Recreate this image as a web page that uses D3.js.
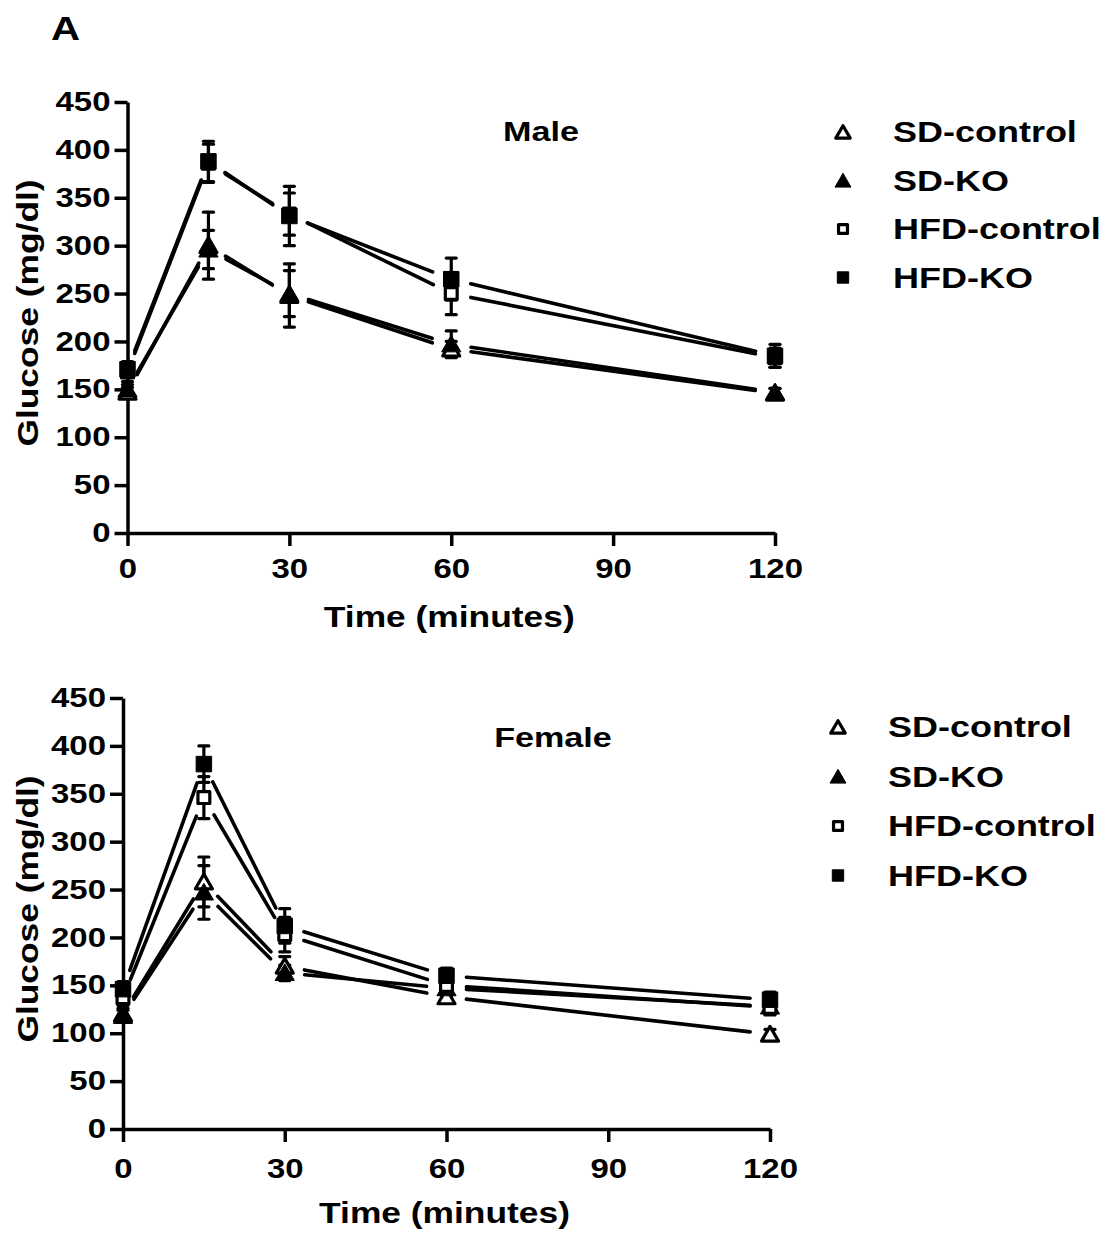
<!DOCTYPE html>
<html>
<head>
<meta charset="utf-8">
<script src="https://cdn.jsdelivr.net/npm/d3@7"></script>
<style>
  body { margin: 0; background: #fff; }
  text { font-family: "Liberation Sans", Arial, sans-serif; font-weight: bold; fill: #000; }
</style>
</head>
<body>
<div id="chart"></div>
<script>
const times = [0, 15, 30, 60, 120];
const seriesNames = ["SD-control", "SD-KO", "HFD-control", "HFD-KO"];
const yTicks = [0, 50, 100, 150, 200, 250, 300, 350, 400, 450];
const xTicks = [0, 30, 60, 90, 120];

// male means / SEM
const maleSDControl = [147, 300, 248, 192, 146];
const maleSDKO = [150, 296, 250, 197, 147];
const maleHFDControl = [168, 386, 333, 250, 183];
const maleHFDKO = [171, 388, 331, 265, 185];
const maleSDControlErr = [5, 35, 33, 8, 5];
const maleSDKOErr = [5, 20, 24, 14, 4];
const maleHFDControlErr = [10, 20, 22, 22, 10];
const maleHFDKOErr = [8, 21, 31, 22, 12];

// female means / SEM
const femaleSDControl = [120, 258, 170, 138, 99];
const femaleSDKO = [118, 247, 163, 147, 128];
const femaleHFDControl = [137, 346, 203, 150, 127];
const femaleHFDKO = [146, 381, 212, 160, 135];
const femaleSDControlErr = [6, 26, 10, 6, 5];
const femaleSDKOErr = [6, 28, 8, 8, 8];
const femaleHFDControlErr = [8, 22, 18, 8, 8];
const femaleHFDKOErr = [8, 19, 18, 8, 8];

const W = 1106, H = 1234;
const SX = 1.22; // text in the figure is wider than Liberation Sans

const svg = d3.select('#chart').append('svg')
  .attr('width', W)
  .attr('height', H)
  .attr('viewBox', [0, 0, W, H]);

function stext(g, x, y, str, size, anchor) {
  return g.append('text')
    .attr('transform', `translate(${x},${y}) scale(${SX},1)`)
    .attr('text-anchor', anchor || 'start')
    .style('font-size', size + 'px')
    .text(str);
}

stext(svg, 51, 40, 'A', 33);

const shapes = [
  { type: d3.symbolTriangle, filled: false },
  { type: d3.symbolTriangle, filled: true },
  { type: d3.symbolSquare, filled: false },
  { type: d3.symbolSquare, filled: true }
];

function marker(g, i, x, y, legend) {
  const s = shapes[i];
  const isTri = s.type === d3.symbolTriangle;
  let size = isTri ? (s.filled ? 160 : 125) : (s.filled ? 240 : 140);
  if (legend) size = isTri ? (s.filled ? 110 : 90) : (s.filled ? 130 : 80);
  g.append('path')
    .attr('d', d3.symbol().type(s.type).size(size)())
    .attr('transform', `translate(${x},${y + (isTri ? 2 : 0)})`)
    .attr('fill', s.filled ? '#000' : '#fff')
    .attr('stroke', '#000')
    .attr('stroke-width', s.filled ? 1 : 3.2)
    .attr('stroke-linejoin', 'round');
}

function panel(cfg) {
  const x = d3.scaleLinear().domain([0, 120]).range([cfg.x0, cfg.x1]);
  const y = d3.scaleLinear().domain([0, 450]).range([cfg.y0, cfg.y1]);
  const g = svg.append('g');

  const yAxis = g.append('g')
    .attr('transform', `translate(${cfg.x0},0)`)
    .call(d3.axisLeft(y).tickValues(yTicks).tickSize(13).tickSizeOuter(0).tickPadding(4));
  const xAxis = g.append('g')
    .attr('transform', `translate(0,${cfg.y0})`)
    .call(d3.axisBottom(x).tickValues(xTicks).tickSize(13).tickSizeOuter(0).tickPadding(cfg.xPad));

  [yAxis, xAxis].forEach(a => {
    a.selectAll('path, line').attr('stroke', '#000').attr('stroke-width', 3.5);
    a.selectAll('text')
      .style('font-size', '27px')
      .style('font-family', '"Liberation Sans", Arial, sans-serif')
      .style('font-weight', 'bold')
      .attr('fill', '#000')
      .attr('transform', function () {
        const tx = +this.getAttribute('x') || 0;
        return `translate(${tx * (1 - SX)},0) scale(${SX},1)`;
      });
  });

  stext(g, (cfg.x0 + cfg.x1) / 2 - 2, cfg.xTitleY, 'Time (minutes)', 29, 'middle');
  g.append('text')
    .attr('transform', `translate(${cfg.yTitleX},${cfg.yTitleY}) rotate(-90) scale(${SX},1)`)
    .attr('text-anchor', 'middle')
    .style('font-size', '29px')
    .text('Glucose (mg/dl)');
  stext(g, cfg.titleX, cfg.titleY, cfg.title, 28, 'middle');

  // connecting lines with gaps at the symbols
  const gap = 20;
  cfg.means.forEach(m => {
    for (let k = 0; k < times.length - 1; k++) {
      const ax = x(times[k]), ay = y(m[k]);
      const bx = x(times[k + 1]), by = y(m[k + 1]);
      const len = Math.hypot(bx - ax, by - ay);
      const ux = (bx - ax) / len, uy = (by - ay) / len;
      g.append('line')
        .attr('x1', ax + ux * gap).attr('y1', ay + uy * gap)
        .attr('x2', bx - ux * gap).attr('y2', by - uy * gap)
        .attr('stroke', '#000')
        .attr('stroke-width', 3.6)
        .attr('stroke-linecap', 'round');
    }
  });

  // error bars and symbols
  cfg.means.forEach((m, i) => {
    const e = cfg.errs[i];
    times.forEach((t, k) => {
      const cx = x(t);
      const top = y(m[k] + e[k]), bot = y(m[k] - e[k]);
      g.append('line')
        .attr('x1', cx).attr('x2', cx).attr('y1', top).attr('y2', bot)
        .attr('stroke', '#000').attr('stroke-width', 3.2);
      [top, bot].forEach(v => {
        g.append('line')
          .attr('x1', cx - 5).attr('x2', cx + 5).attr('y1', v).attr('y2', v)
          .attr('stroke', '#000').attr('stroke-width', 3.2).attr('stroke-linecap', 'round');
      });
    });
  });
  cfg.means.forEach((m, i) => {
    times.forEach((t, k) => marker(g, i, x(t), y(m[k]), false));
  });

  // legend
  seriesNames.forEach((name, i) => {
    const ly = cfg.legY + i * cfg.legStep;
    marker(g, i, cfg.legX, ly, true);
    stext(g, cfg.legX + 50, ly + 10, name, 29.5, 'start');
  });
}

panel({
  x0: 127.5, x1: 775, y0: 533, y1: 102, xPad: 13,
  xTitleY: 627, yTitleX: 38, yTitleY: 313,
  title: 'Male', titleX: 541, titleY: 141,
  legX: 843, legY: 132, legStep: 48.5,
  means: [maleSDControl, maleSDKO, maleHFDControl, maleHFDKO],
  errs: [maleSDControlErr, maleSDKOErr, maleHFDControlErr, maleHFDKOErr]
});

panel({
  x0: 123, x1: 770, y0: 1129, y1: 698, xPad: 17,
  xTitleY: 1223, yTitleX: 38, yTitleY: 909,
  title: 'Female', titleX: 553, titleY: 747,
  legX: 838, legY: 727, legStep: 49.5,
  means: [femaleSDControl, femaleSDKO, femaleHFDControl, femaleHFDKO],
  errs: [femaleSDControlErr, femaleSDKOErr, femaleHFDControlErr, femaleHFDKOErr]
});
</script>
</body>
</html>
